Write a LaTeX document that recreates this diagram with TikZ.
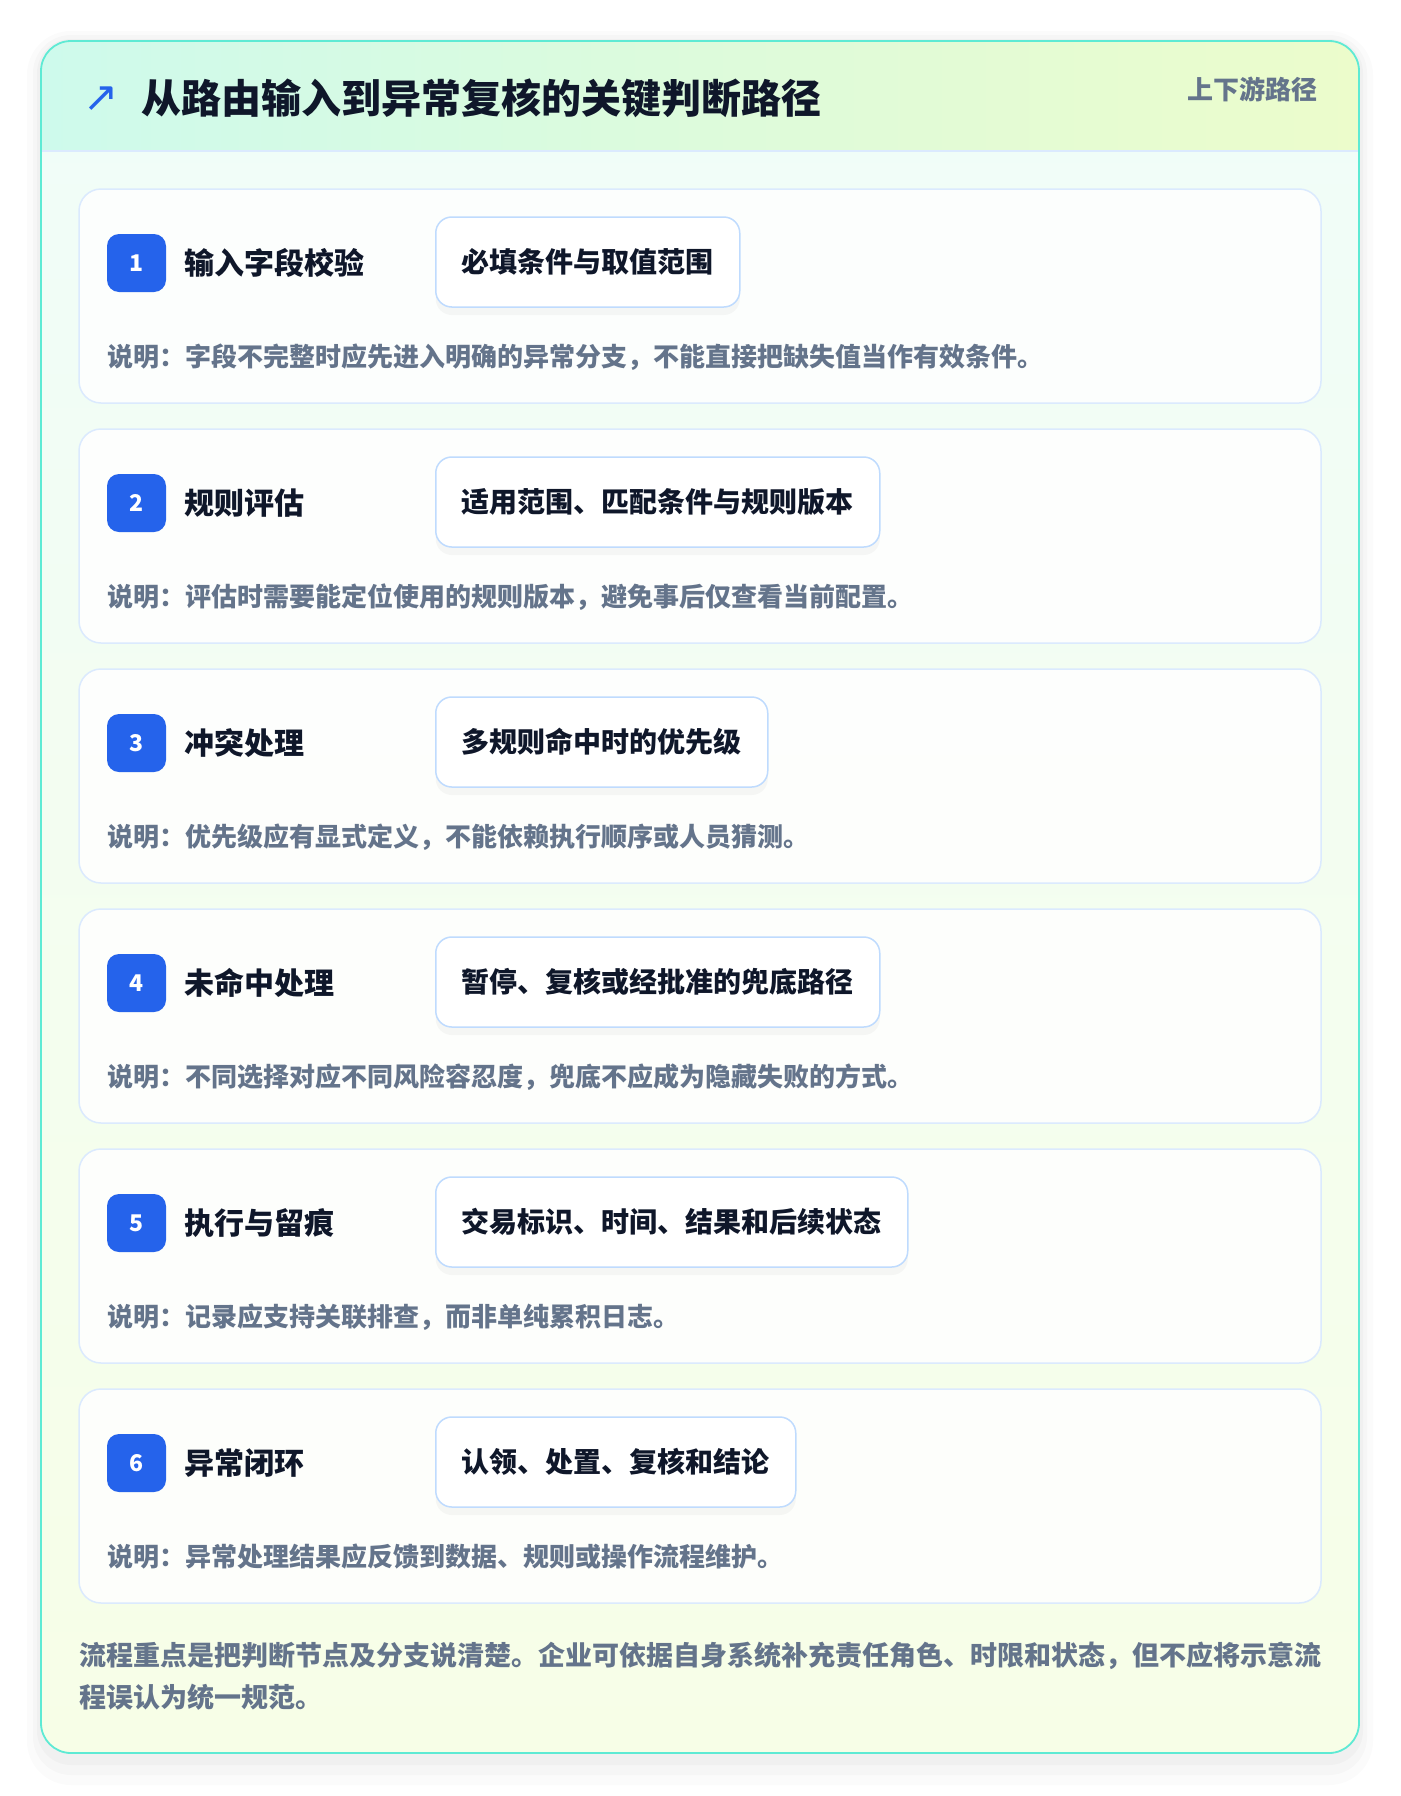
\documentclass[tikz,border=0pt]{standalone}
\usepackage{fontspec}
\setmainfont{Noto Sans CJK SC}
\newfontfamily\symfont{DejaVu Sans}
\usetikzlibrary{shadows}

\definecolor{ink}{RGB}{15,23,42}
\definecolor{muted}{RGB}{100,116,139}
\definecolor{brand}{RGB}{37,99,235}
\definecolor{cardline}{RGB}{219,234,254}
\definecolor{pillline}{RGB}{191,219,254}
\definecolor{rim}{RGB}{94,234,212}
\definecolor{headl}{RGB}{206,250,236}
\definecolor{headr}{RGB}{236,252,203}
\definecolor{bodytop}{RGB}{240,253,249}
\definecolor{bodybot}{RGB}{247,254,231}

\tikzset{
    stepcard/.style={draw=cardline, line width=1.5pt, fill=white, fill opacity=0.85, draw opacity=1, rounded corners=22pt},
    badge/.style={fill=brand, rounded corners=12pt, minimum width=59pt, minimum height=58pt, inner sep=0pt,
        text=white, font=\fontsize{23}{27}\selectfont\bfseries},
    steptitle/.style={anchor=west, inner sep=0pt, text=ink, font=\fontsize{30}{35}\selectfont\bfseries},
    pill/.style={anchor=west, draw=pillline, line width=1.5pt, fill=white, rounded corners=16pt,
        minimum height=90pt, inner xsep=26pt, text=ink, font=\fontsize{28}{33}\selectfont\bfseries,
        drop shadow={opacity=0.06, shadow xshift=0pt, shadow yshift=-8pt}},
    note/.style={anchor=west, inner sep=0pt, text=muted, font=\fontsize{26}{30}\selectfont\bfseries},
}

\begin{document}
\begin{tikzpicture}[x=1pt, y=-1pt]
    \useasboundingbox (0,0) rectangle (1400,1796);
    \fill[white] (0,0) rectangle (1400,1796);

    % soft halo round the card
    \fill[black, opacity=0.015, rounded corners=44pt] (27,31) rectangle (1373,1785);
    \fill[black, opacity=0.02, rounded corners=38pt] (33,35) rectangle (1367,1775);
    \fill[black, opacity=0.025, rounded corners=34pt] (37,39) rectangle (1363,1765);

    \begin{scope}
        \clip[rounded corners=30pt] (41,41) rectangle (1359,1753);
        \shade[top color=bodytop, bottom color=bodybot] (41,41) rectangle (1359,1753);
        \shade[left color=headl, right color=headr] (41,41) rectangle (1359,151);
        \draw[cardline, line width=2pt] (41,151) -- (1359,151);
    \end{scope}
    \draw[rim, line width=1.8pt, rounded corners=30pt] (41,41) rectangle (1359,1753);

    \node[anchor=center, inner sep=0pt, text=brand, font=\fontsize{42}{46}\selectfont\symfont] (icon) at (101,99) {↗};
    \node[anchor=west, inner sep=0pt, text=ink, font=\fontsize{40}{46}\selectfont\bfseries] (title) at (141,98) {从路由输入到异常复核的关键判断路径};
    \node[anchor=east, inner sep=0pt, text=muted, font=\fontsize{26}{30}\selectfont\bfseries] (tag) at (1318,89) {上下游路径};

    % step 1
    \draw[stepcard] (79,189) rectangle (1321,403);
    \node[badge] (b1) at (136.5,263) {1};
    \node[steptitle] (t1) at (184,263) {输入字段校验};
    \node[pill] (p1) at (435,262) {必填条件与取值范围};
    \node[note] (n1) at (107,357) {说明：字段不完整时应先进入明确的异常分支，不能直接把缺失值当作有效条件。};

    % step 2
    \draw[stepcard] (79,429) rectangle (1321,643);
    \node[badge] (b2) at (136.5,503) {2};
    \node[steptitle] (t2) at (184,503) {规则评估};
    \node[pill] (p2) at (435,502) {适用范围、匹配条件与规则版本};
    \node[note] (n2) at (107,597) {说明：评估时需要能定位使用的规则版本，避免事后仅查看当前配置。};

    % step 3
    \draw[stepcard] (79,669) rectangle (1321,883);
    \node[badge] (b3) at (136.5,743) {3};
    \node[steptitle] (t3) at (184,743) {冲突处理};
    \node[pill] (p3) at (435,742) {多规则命中时的优先级};
    \node[note] (n3) at (107,837) {说明：优先级应有显式定义，不能依赖执行顺序或人员猜测。};

    % step 4
    \draw[stepcard] (79,909) rectangle (1321,1123);
    \node[badge] (b4) at (136.5,983) {4};
    \node[steptitle] (t4) at (184,983) {未命中处理};
    \node[pill] (p4) at (435,982) {暂停、复核或经批准的兜底路径};
    \node[note] (n4) at (107,1077) {说明：不同选择对应不同风险容忍度，兜底不应成为隐藏失败的方式。};

    % step 5
    \draw[stepcard] (79,1149) rectangle (1321,1363);
    \node[badge] (b5) at (136.5,1223) {5};
    \node[steptitle] (t5) at (184,1223) {执行与留痕};
    \node[pill] (p5) at (435,1222) {交易标识、时间、结果和后续状态};
    \node[note] (n5) at (107,1317) {说明：记录应支持关联排查，而非单纯累积日志。};

    % step 6
    \draw[stepcard] (79,1389) rectangle (1321,1603);
    \node[badge] (b6) at (136.5,1463) {6};
    \node[steptitle] (t6) at (184,1463) {异常闭环};
    \node[pill] (p6) at (435,1462) {认领、处置、复核和结论};
    \node[note] (n6) at (107,1557) {说明：异常处理结果应反馈到数据、规则或操作流程维护。};

    \node[anchor=north west, inner sep=0pt, align=left, text=muted, font=\fontsize{27}{42}\selectfont\bfseries] (foot) at (79,1642)
        {流程重点是把判断节点及分支说清楚。企业可依据自身系统补充责任角色、时限和状态，但不应将示意流\\程误认为统一规范。};
\end{tikzpicture}
\end{document}
